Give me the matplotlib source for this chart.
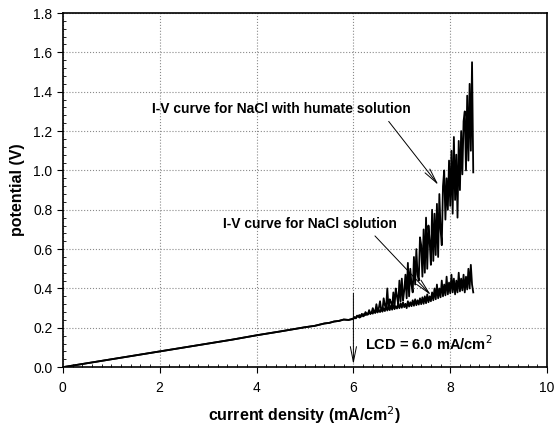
import numpy as np
import matplotlib
matplotlib.use("Agg")
import matplotlib.pyplot as plt
from matplotlib.ticker import MultipleLocator

plt.rcParams['font.family'] = ['Liberation Sans', 'DejaVu Sans']

# Datos leidos del grafico
# tramo comun (0 - 6 mA/cm2), practicamente lineal
base_x = [0.0, 0.5, 1.0, 1.5, 2.0, 2.5, 3.0, 3.5, 4.0, 4.5, 5.0, 5.2, 5.4, 5.5, 5.6, 5.7, 5.8, 5.9]
base_y = [0.0, 0.02, 0.04, 0.06, 0.08, 0.10, 0.12, 0.14, 0.162, 0.182, 0.203, 0.21, 0.222, 0.225,
          0.232, 0.235, 0.242, 0.24]

# tramo ruidoso (6.0 - 8.475 mA/cm2, paso 0.025)
ruido_x = [6.000, 6.025, 6.050, 6.075, 6.100, 6.125, 6.150, 6.175, 6.200, 6.225,
           6.250, 6.275, 6.300, 6.325, 6.350, 6.375, 6.400, 6.425, 6.450, 6.475,
           6.500, 6.525, 6.550, 6.575, 6.600, 6.625, 6.650, 6.675, 6.700, 6.725,
           6.750, 6.775, 6.800, 6.825, 6.850, 6.875, 6.900, 6.925, 6.950, 6.975,
           7.000, 7.025, 7.050, 7.075, 7.100, 7.125, 7.150, 7.175, 7.200, 7.225,
           7.250, 7.275, 7.300, 7.325, 7.350, 7.375, 7.400, 7.425, 7.450, 7.475,
           7.500, 7.525, 7.550, 7.575, 7.600, 7.625, 7.650, 7.675, 7.700, 7.725,
           7.750, 7.775, 7.800, 7.825, 7.850, 7.875, 7.900, 7.925, 7.950, 7.975,
           8.000, 8.025, 8.050, 8.075, 8.100, 8.125, 8.150, 8.175, 8.200, 8.225,
           8.250, 8.275, 8.300, 8.325, 8.350, 8.375, 8.400, 8.425, 8.450, 8.475]

humato_y = [0.245, 0.252, 0.248, 0.258, 0.262, 0.252, 0.255, 0.270, 0.258, 0.262,
            0.280, 0.266, 0.268, 0.290, 0.272, 0.276, 0.300, 0.285, 0.280, 0.320,
            0.285, 0.300, 0.335, 0.290, 0.288, 0.350, 0.315, 0.295, 0.400, 0.300,
            0.345, 0.330, 0.305, 0.380, 0.310, 0.400, 0.360, 0.320, 0.440, 0.335,
            0.450, 0.340, 0.390, 0.470, 0.350, 0.530, 0.360, 0.500, 0.420, 0.380,
            0.560, 0.420, 0.600, 0.470, 0.440, 0.660, 0.620, 0.460, 0.700, 0.480,
            0.760, 0.500, 0.720, 0.640, 0.520, 0.800, 0.540, 0.780, 0.570, 0.830,
            0.560, 0.880, 0.700, 0.620, 0.920, 1.000, 0.750, 0.960, 0.800, 1.050,
            0.820, 1.100, 0.780, 1.170, 0.850, 1.080, 0.760, 1.150, 0.900, 1.200,
            0.980, 1.250, 1.300, 1.000, 1.380, 1.050, 1.440, 1.100, 1.550, 0.990]

nacl_y = [0.248, 0.255, 0.250, 0.262, 0.255, 0.265, 0.258, 0.270, 0.262, 0.272,
          0.265, 0.275, 0.268, 0.280, 0.270, 0.282, 0.272, 0.285, 0.275, 0.290,
          0.278, 0.292, 0.280, 0.295, 0.282, 0.300, 0.285, 0.310, 0.288, 0.305,
          0.290, 0.312, 0.292, 0.315, 0.295, 0.310, 0.298, 0.320, 0.300, 0.325,
          0.302, 0.330, 0.305, 0.322, 0.300, 0.335, 0.308, 0.330, 0.310, 0.340,
          0.312, 0.345, 0.315, 0.340, 0.318, 0.350, 0.320, 0.355, 0.322, 0.360,
          0.325, 0.370, 0.330, 0.360, 0.335, 0.380, 0.340, 0.400, 0.345, 0.420,
          0.350, 0.400, 0.355, 0.440, 0.360, 0.420, 0.365, 0.460, 0.370, 0.430,
          0.375, 0.470, 0.380, 0.450, 0.370, 0.440, 0.380, 0.480, 0.385, 0.450,
          0.390, 0.470, 0.380, 0.460, 0.395, 0.500, 0.400, 0.520, 0.420, 0.380]

lcd = 6.0

fig = plt.figure(figsize=(5.56, 4.34), dpi=100)
ax = fig.add_axes([0.113, 0.154, 0.871, 0.816])

ax.plot(base_x + ruido_x, base_y + nacl_y, color='black', linewidth=1.3)
ax.plot(base_x + ruido_x, base_y + humato_y, color='black', linewidth=1.3)

ax.set_xlim(0, 10)
ax.set_ylim(0, 1.8)
ax.xaxis.set_major_locator(MultipleLocator(2))
ax.xaxis.set_minor_locator(MultipleLocator(0.2))
ax.yaxis.set_major_locator(MultipleLocator(0.2))
ax.yaxis.set_minor_locator(MultipleLocator(0.04))
ax.yaxis.set_major_formatter(plt.FormatStrFormatter('%.1f'))
ax.grid(True, which='major', color='#8a8a8a', linestyle=':', linewidth=0.8)
ax.tick_params(which='major', direction='out', length=4, width=0.8, labelsize=10)
ax.tick_params(which='minor', direction='in', length=2.5, width=0.6)
ax.tick_params(axis='x', which='major', pad=6)
for s in ax.spines.values():
    s.set_linewidth(1.2)

ax.set_xlabel('current density (mA/cm$^2$)', fontsize=11.5, fontweight='bold', labelpad=7)
ax.set_ylabel('potential (V)', fontsize=11.5, fontweight='bold', labelpad=6)

flecha = dict(arrowstyle='->,head_length=1.1,head_width=0.22', color='black',
              linewidth=0.7, mutation_scale=10)
ax.annotate('I-V curve for NaCl with humate solution', xy=(7.79, 0.915), xytext=(1.84, 1.31),
            fontsize=10, fontweight='bold', va='center', ha='left',
            arrowprops=dict(flecha, relpos=(0.9, 0.0)))
ax.annotate('I-V curve for NaCl solution', xy=(7.64, 0.356), xytext=(3.3, 0.727),
            fontsize=10, fontweight='bold', va='center', ha='left',
            arrowprops=dict(flecha, relpos=(0.85, 0.0)))
ax.annotate('', xy=(lcd, 0.0), xytext=(lcd, 0.39), arrowprops=flecha)
ax.text(6.24, 0.117, 'LCD = 6.0 mA/cm$^2$', fontsize=10.5, fontweight='bold', va='center', ha='left')

fig.savefig('out.png', dpi=100)
